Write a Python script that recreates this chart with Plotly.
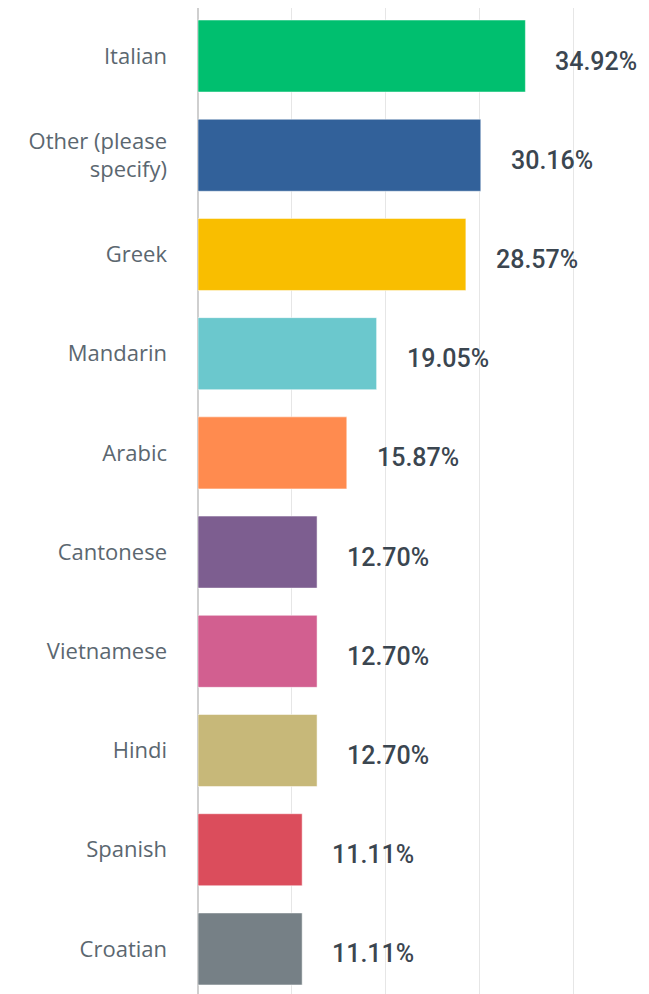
import plotly.graph_objects as go

categories = ["Italian", "Other (please<br>specify)", "Greek", "Mandarin", "Arabic",
              "Cantonese", "Vietnamese", "Hindi", "Spanish", "Croatian"]
values = [34.92, 30.16, 28.57, 19.05, 15.87, 12.70, 12.70, 12.70, 11.11, 11.11]
value_labels = ["34.92%", "30.16%", "28.57%", "19.05%", "15.87%",
                "12.70%", "12.70%", "12.70%", "11.11%", "11.11%"]
colors = ["#00BF6F", "#32619A", "#F9BE00", "#6BC8CD", "#FF8B4F",
          "#7D5E90", "#D25F90", "#C7B879", "#DB4D5C", "#768086"]

fig = go.Figure()
fig.add_trace(go.Bar(
    x=values, y=categories, orientation="h",
    marker=dict(color=colors, line=dict(width=1, color="rgba(255,255,255,0.5)")),
    width=0.726, hoverinfo="skip",
))

for c, v, lab in zip(categories, values, value_labels):
    fig.add_annotation(x=v, y=c, text=lab, showarrow=False, xanchor="left",
                       xshift=28, yshift=-5,
                       font=dict(family="Roboto, Open Sans, sans-serif", size=25,
                                 color="#3b4650", weight=500))

fig.update_layout(
    width=641, height=986,
    margin=dict(l=190, r=0, t=0, b=0),
    plot_bgcolor="white", paper_bgcolor="white",
    showlegend=False,
    font=dict(family="Open Sans, Roboto, sans-serif"),
)
fig.update_xaxes(range=[0, 48.1], dtick=10, showticklabels=False,
                 showgrid=True, gridcolor="#e6e6e6", gridwidth=1,
                 zeroline=True, zerolinecolor="#cfcfcf", zerolinewidth=2,
                 fixedrange=True)
fig.update_yaxes(type="category", categoryorder="array", categoryarray=categories,
                 range=[9.454, -0.484], showgrid=False,
                 tickfont=dict(family="Open Sans, Roboto, sans-serif", size=22, color="#5b6770"),
                 ticklabelstandoff=30, fixedrange=True)

fig.write_html("out.html")
